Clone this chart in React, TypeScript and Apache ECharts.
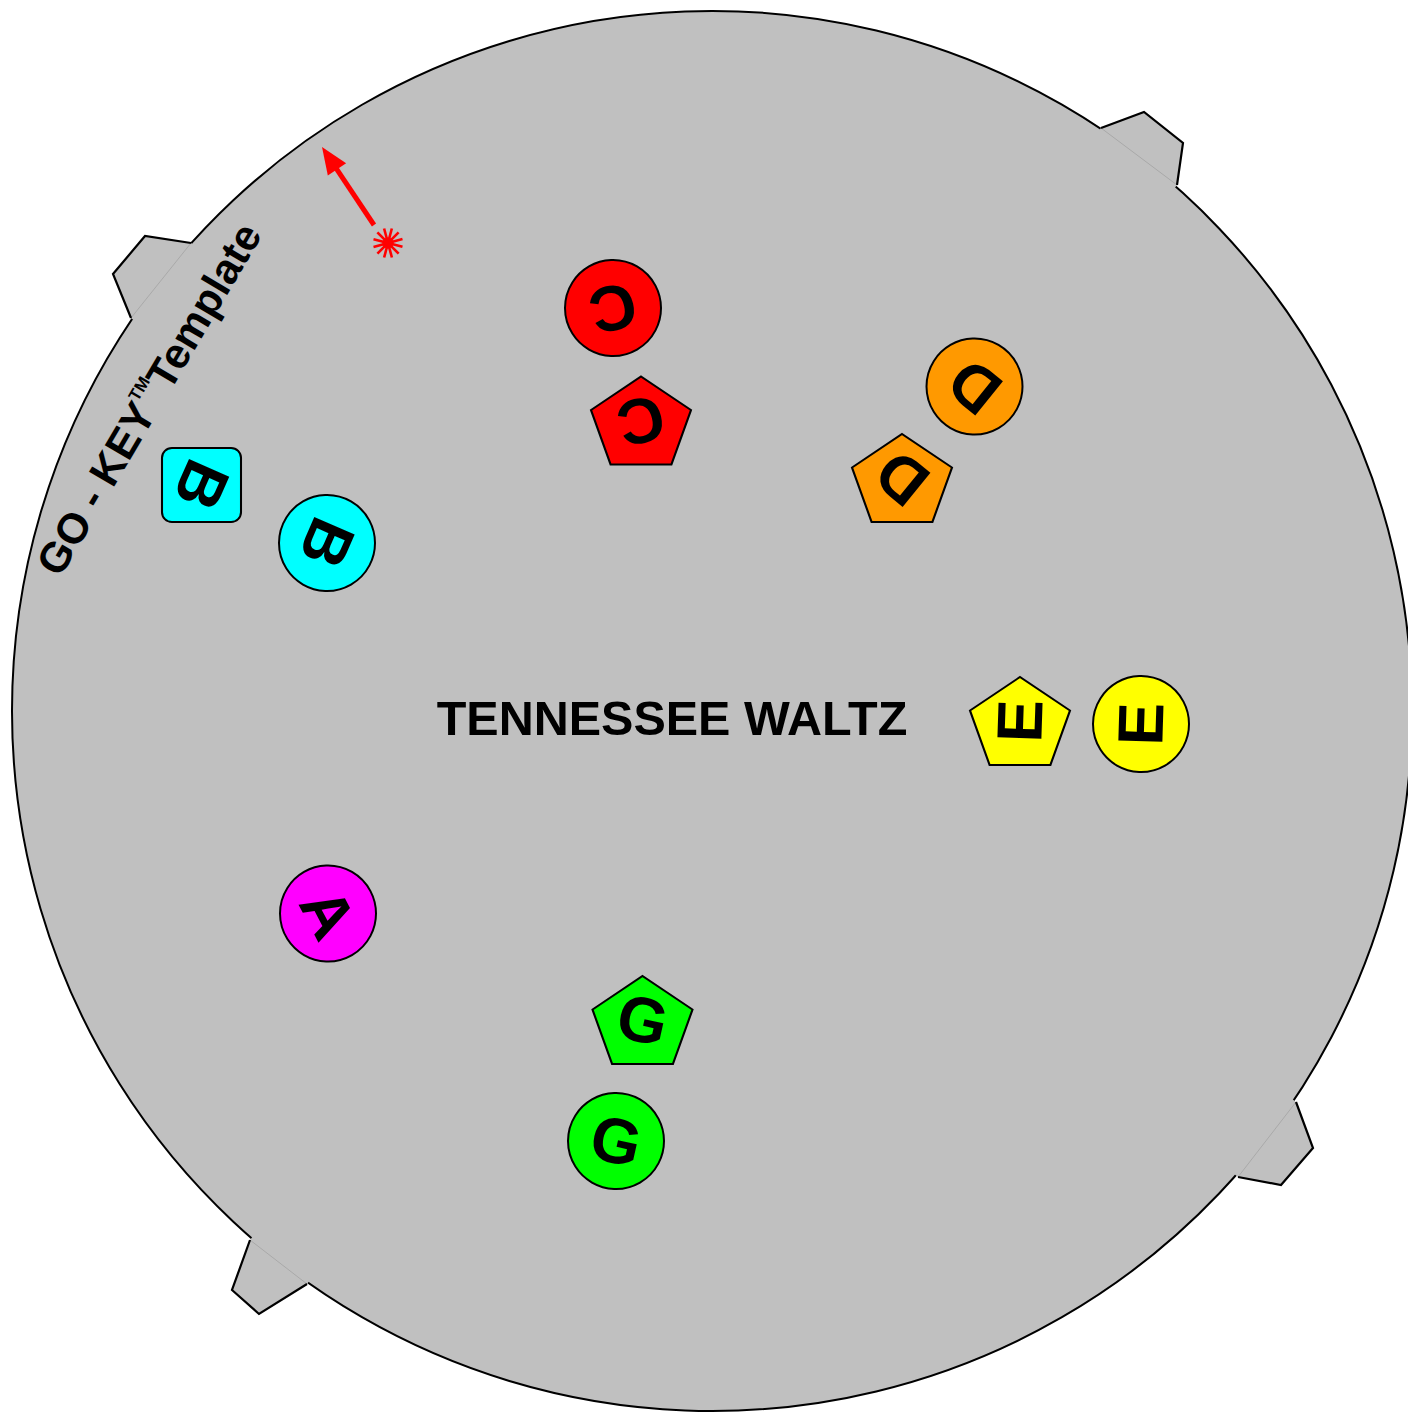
import React, { useEffect, useRef } from "react";
import * as echarts from "echarts";

const W = 1408;
const H = 1412;

// disc: centre x, centre y, radius (in page units)
const disc = [712, 711, 700];

// tabs: outer outline; first and last points sit on the rim
const tabs = [
  [[191, 243], [145, 236], [113, 274], [131, 318]],
  [[1101, 128], [1144, 112], [1183, 143], [1177, 185]],
  [[1296, 1102], [1313, 1148], [1281, 1185], [1238, 1177]],
  [[307, 1284], [259, 1314], [232, 1290], [250, 1240]],
];

// tokens
const tokenLetters = ["C", "C", "D", "D", "E", "E", "G", "G", "A", "B", "B"];
const tokenShapes = ["circle", "pentagon", "circle", "pentagon", "pentagon", "circle", "pentagon", "circle", "circle", "square", "circle"];
const tokenColors = ["#FF0000", "#FF0000", "#FF9900", "#FF9900", "#FFFF00", "#FFFF00", "#00FF00", "#00FF00", "#FF00FF", "#00FFFF", "#00FFFF"];
const tokenX = [613, 641, 974.5, 902, 1020, 1141, 642.5, 616, 328, 201.5, 327];
const tokenY = [308, 420.5, 386.5, 478, 721, 724, 1020, 1141, 913.5, 485, 543];

// red pointer
const arrowFrom = [374, 225];
const arrowTo = [322, 147];
const starCenter = [388, 243];
const starRadius = 15;

const titleText = "TENNESSEE WALTZ";

const FONT = "'Liberation Sans', Arial, Helvetica, sans-serif";

const pentagonPath = "path://M51,0 L102,34 L82,89 L20,89 L0,34 Z";
const squarePath =
  "path://M10,0 L70,0 A10,10 0 0 1 80,10 L80,66 A10,10 0 0 1 70,76 L10,76 A10,10 0 0 1 0,66 L0,10 A10,10 0 0 1 10,0 Z";

function shapeSymbol(s: string) {
  if (s === "pentagon") return { symbol: pentagonPath, symbolSize: [100, 88] };
  if (s === "square") return { symbol: squarePath, symbolSize: [79, 74] };
  return { symbol: "circle", symbolSize: 96 };
}

export default function App() {
  const ref = useRef<HTMLDivElement>(null);

  useEffect(() => {
    if (!ref.current) return;
    const chart = echarts.init(ref.current, undefined, { renderer: "svg" });

    const tokenData = tokenLetters.map((letter, i) => {
      const theta = (Math.atan2(tokenY[i] - disc[1], tokenX[i] - disc[0]) * 180) / Math.PI;
      const rot = 90 - theta;
      const sym = shapeSymbol(tokenShapes[i]);
      return {
        value: [tokenX[i], tokenY[i]],
        symbol: sym.symbol,
        symbolSize: sym.symbolSize,
        itemStyle: { color: tokenColors[i], borderColor: "#000", borderWidth: 2, opacity: 1 },
        label: {
          show: true,
          position: "inside",
          formatter: letter,
          rotate: rot,
          fontSize: 64,
          fontWeight: "bold",
          fontFamily: FONT,
          color: "#000",
          opacity: 1,
        },
      };
    });

    const option: any = {
      animation: false,
      grid: { left: 0, right: 0, top: 0, bottom: 0 },
      xAxis: { type: "value", min: 0, max: W, show: false },
      yAxis: { type: "value", min: 0, max: H, inverse: true, show: false },
      series: [
        {
          type: "custom",
          z: 1,
          clip: false,
          silent: true,
          data: [disc],
          renderItem: (params: any, api: any) => {
            const c = api.coord([api.value(0), api.value(1)]);
            const r = api.size([api.value(2), 0])[0];
            return {
              type: "circle",
              shape: { cx: c[0], cy: c[1], r },
              style: { fill: "#C0C0C0", stroke: "#000", lineWidth: 2 },
            };
          },
        },
        {
          type: "custom",
          z: 2,
          clip: false,
          silent: true,
          data: tabs.map((_, i) => [i]),
          renderItem: (params: any, api: any) => {
            const t = tabs[params.dataIndex];
            const pts = t.map((p) => api.coord(p));
            const c = api.coord([disc[0], disc[1]]);
            const a = pts[0];
            const b = pts[pts.length - 1];
            const mx = (a[0] + b[0]) / 2;
            const my = (a[1] + b[1]) / 2;
            const dx = c[0] - mx;
            const dy = c[1] - my;
            const d = Math.sqrt(dx * dx + dy * dy);
            const inner = [mx + (dx / d) * 25, my + (dy / d) * 25];
            const ia = [a[0] + (dx / d) * 6, a[1] + (dy / d) * 6];
            const ib = [b[0] + (dx / d) * 6, b[1] + (dy / d) * 6];
            return {
              type: "group",
              children: [
                {
                  type: "polygon",
                  shape: { points: [ia, ...pts, ib, inner] },
                  style: { fill: "#C0C0C0", stroke: null },
                },
                {
                  type: "line",
                  shape: { x1: a[0], y1: a[1], x2: b[0], y2: b[1] },
                  style: { stroke: "rgba(0,0,0,0.12)", lineWidth: 1 },
                },
                {
                  type: "polyline",
                  shape: { points: pts },
                  style: { fill: null, stroke: "#000", lineWidth: 2.2, lineJoin: "miter" },
                },
              ],
            };
          },
        },
        {
          type: "scatter",
          z: 3,
          silent: true,
          itemStyle: { opacity: 1 },
          data: tokenData,
        },
        {
          type: "custom",
          z: 4,
          clip: false,
          silent: true,
          data: [[arrowFrom[0], arrowFrom[1], arrowTo[0], arrowTo[1]]],
          renderItem: (params: any, api: any) => {
            const p0 = api.coord([api.value(0), api.value(1)]);
            const p1 = api.coord([api.value(2), api.value(3)]);
            const dx = p1[0] - p0[0];
            const dy = p1[1] - p0[1];
            const len = Math.sqrt(dx * dx + dy * dy);
            const ux = dx / len;
            const uy = dy / len;
            const headLen = 27;
            const headHalf = 11;
            const bx = p1[0] - ux * headLen;
            const by = p1[1] - uy * headLen;
            const nx = -uy;
            const ny = ux;
            return {
              type: "group",
              children: [
                {
                  type: "line",
                  shape: { x1: p0[0], y1: p0[1], x2: bx + ux * 2, y2: by + uy * 2 },
                  style: { stroke: "#FF0000", lineWidth: 5 },
                },
                {
                  type: "polygon",
                  shape: {
                    points: [
                      [p1[0], p1[1]],
                      [bx + nx * headHalf, by + ny * headHalf],
                      [bx - nx * headHalf, by - ny * headHalf],
                    ],
                  },
                  style: { fill: "#FF0000" },
                },
              ],
            };
          },
        },
        {
          type: "custom",
          z: 4,
          clip: false,
          silent: true,
          data: [[starCenter[0], starCenter[1], starRadius]],
          renderItem: (params: any, api: any) => {
            const c = api.coord([api.value(0), api.value(1)]);
            const r = api.size([api.value(2), 0])[0];
            const children: any[] = [];
            const n = 6;
            for (let k = 0; k < n; k++) {
              const ang = (Math.PI * k) / n + 0.26;
              children.push({
                type: "line",
                shape: {
                  x1: c[0] - Math.cos(ang) * r,
                  y1: c[1] - Math.sin(ang) * r,
                  x2: c[0] + Math.cos(ang) * r,
                  y2: c[1] + Math.sin(ang) * r,
                },
                style: { stroke: "#FF0000", lineWidth: 2.6 },
              });
            }
            children.push({
              type: "circle",
              shape: { cx: c[0], cy: c[1], r: 5.5 },
              style: { fill: "#FF0000" },
            });
            return { type: "group", children };
          },
        },
      ],
      graphic: [
        {
          type: "text",
          z: 10,
          x: 672,
          y: 718,
          style: {
            text: titleText,
            fontSize: 48.5,
            fontWeight: "bold",
            fontFamily: FONT,
            fill: "#000",
            align: "center",
            verticalAlign: "middle",
          },
        },
        {
          type: "text",
          z: 10,
          x: 149,
          y: 399,
          rotation: (59.5 * Math.PI) / 180,
          style: {
            text: "{a|GO - KEY}{tm|TM}{a|Template}",
            align: "center",
            verticalAlign: "middle",
            fill: "#000",
            rich: {
              a: { fontSize: 42.5, fontWeight: "bold", fontFamily: FONT, fill: "#000", lineHeight: 46 },
              tm: { fontSize: 17, fontWeight: "bold", fontFamily: FONT, fill: "#000", lineHeight: 46, verticalAlign: "top", padding: [1, 0, 0, 0] },
            },
          },
        },
      ],
    };

    chart.setOption(option);
    return () => chart.dispose();
  }, []);

  return (
    <div
      ref={ref}
      style={{ position: "absolute", left: 0, top: 0, width: W, height: H }}
    />
  );
}
